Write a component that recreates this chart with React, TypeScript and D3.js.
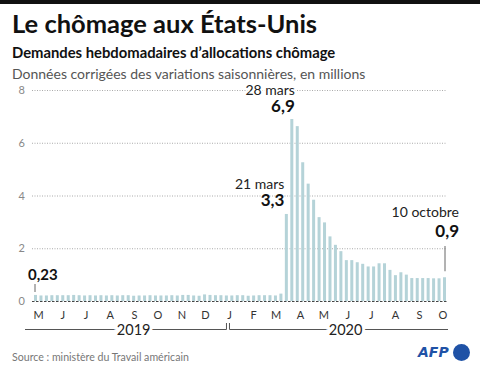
import React, { useEffect, useRef } from "react";
import * as d3 from "d3";

// weekly claims, millions, week ending May 4 2019 -> Oct 10 2020
const firstWeek = new Date(2019, 4, 4);
const claims2019 = [
  0.23, 0.21, 0.21, 0.22, 0.22, 0.22, 0.22, 0.23, 0.22, 0.21, 0.22, 0.21, 0.22,
  0.21, 0.22, 0.21, 0.22, 0.22, 0.2, 0.21, 0.21, 0.22, 0.21, 0.21, 0.21, 0.22,
  0.21, 0.23, 0.23, 0.21, 0.2, 0.25, 0.23, 0.22, 0.22,
];
const claims2020 = [
  0.21, 0.21, 0.22, 0.22, 0.2, 0.21, 0.22, 0.22, 0.22, 0.21, 0.28,
  3.3, 6.9, 6.63, 5.26, 4.45, 3.84, 3.18, 2.98, 2.45, 2.13, 1.89, 1.55, 1.55,
  1.47, 1.41, 1.31, 1.31, 1.43, 1.43, 1.18, 0.98, 1.09, 1.0, 0.87, 0.87, 0.87,
  0.87, 0.86, 0.86, 0.9,
];
const claims = claims2019.concat(claims2020);

const monthLabels = ["M", "J", "J", "A", "S", "O", "N", "D", "J", "F", "M", "A", "M", "J", "J", "A", "S", "O"];
const firstMonth = new Date(2019, 4, 1);
const yTicks = [0, 2, 4, 6, 8];
const years = ["2019", "2020"];

const callouts = [
  { week: 46, date: "21 mars", value: "3,3" },
  { week: 47, date: "28 mars", value: "6,9" },
];

const FONT = "Lato, 'Noto Sans', sans-serif";
const BAR = "#b5d3d8";

export default function App() {
  const ref = useRef<SVGSVGElement>(null);

  useEffect(() => {
    const svg = d3.select(ref.current);
    svg.selectAll(".chart").remove();
    const g = svg.append("g").attr("class", "chart");

    const weeks = claims.map((v, i) => ({ date: d3.timeDay.offset(firstWeek, i * 7), v }));
    const x = d3.scaleTime()
      .domain([weeks[0].date, weeks[weeks.length - 1].date])
      .range([35.5, 444.5]);
    const y = d3.scaleLinear().domain([0, 8]).range([301, 90]);

    // grid
    g.selectAll(".grid").data(yTicks.filter(t => t > 0)).join("line")
      .attr("x1", 32).attr("x2", 447)
      .attr("y1", d => y(d) + 0.5).attr("y2", d => y(d) + 0.5)
      .attr("stroke", "#aaa").attr("stroke-dasharray", "1,1.5");
    g.selectAll(".ylab").data(yTicks).join("text")
      .attr("x", 25).attr("y", d => y(d) + 4)
      .attr("text-anchor", "end").attr("font-size", 11).attr("fill", "#888")
      .text(d => d);

    // bars
    g.selectAll(".bar").data(weeks).join("rect")
      .attr("x", d => x(d.date) - 1.5).attr("width", 3)
      .attr("y", d => y(d.v)).attr("height", d => y(0) - y(d.v))
      .attr("fill", BAR);

    g.append("line").attr("x1", 32).attr("x2", 447).attr("y1", 301.5).attr("y2", 301.5)
      .attr("stroke", "#444").attr("stroke-dasharray", "2.5,1.5");

    // months
    const months = monthLabels.map((m, i) => ({ m, date: d3.timeMonth.offset(firstMonth, i) }));
    const mx = (d: Date) => x(d3.timeDay.offset(d, 7));
    g.selectAll(".month").data(months).join("text")
      .attr("x", d => mx(d.date)).attr("y", 319)
      .attr("text-anchor", "middle").attr("font-size", 11).attr("fill", "#333")
      .text(d => d.m);

    // year brackets
    const split = mx(new Date(2020, 0, 1)) - 1.5;
    const spans = [[25, split - 1.5], [split + 1.5, 448]];
    spans.forEach(([a, b], i) => {
      g.append("line").attr("x1", a).attr("x2", b).attr("y1", 329.5).attr("y2", 329.5)
        .attr("stroke", "#555");
      const tx = i === 0 ? b : a;
      g.append("line").attr("x1", tx).attr("x2", tx).attr("y1", 323).attr("y2", 329.5)
        .attr("stroke", "#555");
    });
    const yearX = [x(new Date(2019, 8, 7)), x(new Date(2020, 5, 5))];
    g.selectAll(".year").data(years).join("text")
      .attr("x", (d, i) => yearX[i]).attr("y", 335)
      .attr("text-anchor", "middle").attr("font-size", 14.5).attr("fill", "#222")
      .attr("stroke", "white").attr("stroke-width", 6).attr("paint-order", "stroke")
      .text(d => d);

    // callouts
    callouts.forEach(c => {
      const d = weeks[c.week];
      const yy = y(d.v);
      const right = x(d.date) + (c.week === 47 ? 3 : -2);
      g.append("text").attr("x", right).attr("y", yy - 24.5).attr("text-anchor", "end")
        .attr("font-size", 14).attr("fill", "#222")
        .attr("stroke", "white").attr("stroke-width", 4).attr("paint-order", "stroke")
        .text(c.date);
      g.append("text").attr("x", right).attr("y", yy - 7.5).attr("text-anchor", "end")
        .attr("font-size", 17).attr("font-weight", "bold").attr("fill", "#111")
        .text(c.value);
    });

    const last = weeks[weeks.length - 1];
    g.append("line").attr("x1", x(last.date) + 0.5).attr("x2", x(last.date) + 0.5)
      .attr("y1", 246).attr("y2", y(last.v) - 6).attr("stroke", "#666");
    g.append("text").attr("x", 459).attr("y", 216.5).attr("text-anchor", "end")
      .attr("font-size", 14).attr("fill", "#222")
      .attr("stroke", "white").attr("stroke-width", 4).attr("paint-order", "stroke")
      .text("10 octobre");
    g.append("text").attr("x", 459).attr("y", 236.5).attr("text-anchor", "end")
      .attr("font-size", 17).attr("font-weight", "bold").attr("fill", "#111")
      .text("0,9");

    const first = weeks[0];
    g.append("line").attr("x1", x(first.date) - 0.5).attr("x2", x(first.date) - 0.5)
      .attr("y1", 284).attr("y2", 292).attr("stroke", "#666");
    g.append("text").attr("x", 28).attr("y", 280).attr("font-size", 15)
      .attr("font-weight", "bold").attr("fill", "#111").text("0,23");
  }, []);

  return (
    <div>
      <style>{`body{margin:0}`}</style>
      <svg ref={ref} width={480} height={372} style={{ display: "block", fontFamily: FONT }}>
        <rect x={0} y={0} width={480} height={4} fill="#111" />
        <text x={12} y={33} fontSize={25.5} fontWeight="bold" fill="#111">Le chômage aux États-Unis</text>
        <text x={12} y={58} fontSize={14.8} fontWeight="bold" fill="#111">Demandes hebdomadaires d’allocations chômage</text>
        <text x={12} y={79} fontSize={14} fill="#555">Données corrigées des variations saisonnières, en millions</text>
        <text x={12} y={361} fontSize={10.6} fill="#777">Source : ministère du Travail américain</text>
        <text x={418} y={357} fontSize={14} fontWeight="900" fontStyle="italic" fill="#1f52a6"
          fontFamily="'DejaVu Sans', sans-serif">AFP</text>
        <circle cx={461.5} cy={352.5} r={8.5} fill="#1f52a6" />
      </svg>
    </div>
  );
}
